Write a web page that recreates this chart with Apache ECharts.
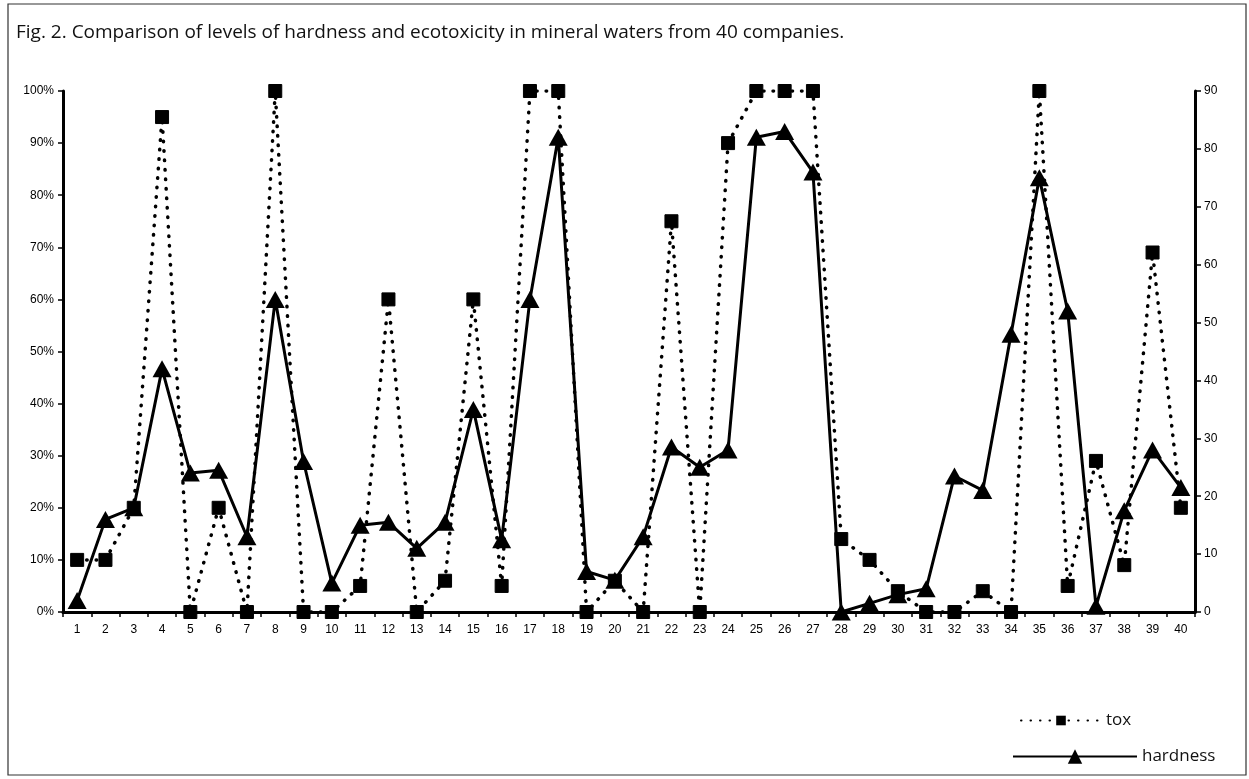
<!DOCTYPE html>
<html><head><meta charset="utf-8">
<script src="https://cdn.jsdelivr.net/npm/echarts@6/dist/echarts.min.js"></script>
<style>html,body{margin:0;padding:0;background:#fff;}#c{width:1249px;height:779px;}</style>
</head><body><div id="c"></div>
<script>
const categories = ['1','2','3','4','5','6','7','8','9','10','11','12','13','14','15','16','17','18','19','20','21','22','23','24','25','26','27','28','29','30','31','32','33','34','35','36','37','38','39','40'];
const tox = [10,10,20,95,0,20,0,100,0,0,5,60,0,6,60,5,100,100,0,6,0,75,0,90,100,100,100,14,10,4,0,0,4,0,100,5,29,9,69,20];
const hardness = [2,16,18,42,24,24.5,13,54,26,5,15,15.5,11,15.5,35,12.5,54,82,7,5.5,13,28.5,25,28,82,83,76,0,1.5,3,4,23.5,21,48,75,52,1,17.5,28,21.5];
const titleText = 'Fig. 2. Comparison of levels of hardness and ecotoxicity in mineral waters from 40 companies.';

const chart = echarts.init(document.getElementById('c'));
const axisFont = {fontFamily:'Liberation Sans', fontSize:12, color:'#000'};
chart.setOption({
  animation:false,
  backgroundColor:'#fff',
  title:{text:titleText, left:11, top:18, textStyle:{fontFamily:'Open Sans', fontSize:19, fontWeight:'normal', color:'#111'}},
  graphic:[{type:'rect', shape:{x:8, y:4, width:1238, height:771}, style:{fill:'none', stroke:'#333', lineWidth:1.2}, silent:true}],
  grid:{left:63, right:54, top:91, bottom:167, containLabel:false},
  legend:[
    {data:['tox'], left:1015, top:707, itemWidth:80, itemHeight:12, itemGap:6, textStyle:{fontFamily:'Open Sans', fontSize:17, color:'#111'}},
    {data:['hardness'], left:1007, top:743, itemWidth:124, itemHeight:18, itemGap:6, textStyle:{fontFamily:'Open Sans', fontSize:17, color:'#111'}}
  ],
  xAxis:{type:'category', data:categories, boundaryGap:true,
    axisLine:{lineStyle:{color:'#000', width:3}},
    axisTick:{show:true, length:5, lineStyle:{color:'#000', width:1.5}},
    axisLabel:Object.assign({margin:12}, axisFont)},
  yAxis:[
    {type:'value', min:0, max:100, interval:10, position:'left',
     axisLine:{show:true, lineStyle:{color:'#000', width:3}},
     axisTick:{show:true, length:5, lineStyle:{color:'#000', width:1.5}},
     splitLine:{show:false},
     axisLabel:Object.assign({formatter:'{value}%', margin:9}, axisFont)},
    {type:'value', min:0, max:90, interval:10, position:'right',
     axisLine:{show:true, lineStyle:{color:'#000', width:3}},
     axisTick:{show:true, length:6, inside:false, lineStyle:{color:'#000', width:1.5}},
     splitLine:{show:false},
     axisLabel:Object.assign({margin:9}, axisFont)}
  ],
  series:[
    {name:'tox', type:'line', yAxisIndex:0, data:tox, symbol:'rect', symbolSize:13, showAllSymbol:true,
     lineStyle:{color:'#000', width:3.5, type:[0.5,9], cap:'round'}, itemStyle:{color:'#000', borderColor:'#000'}, z:3},
    {name:'hardness', type:'line', yAxisIndex:1, data:hardness, symbol:'triangle', symbolSize:[19,17], showAllSymbol:true,
     lineStyle:{color:'#000', width:3}, itemStyle:{color:'#000'}, z:4}
  ]
});
</script></body></html>
